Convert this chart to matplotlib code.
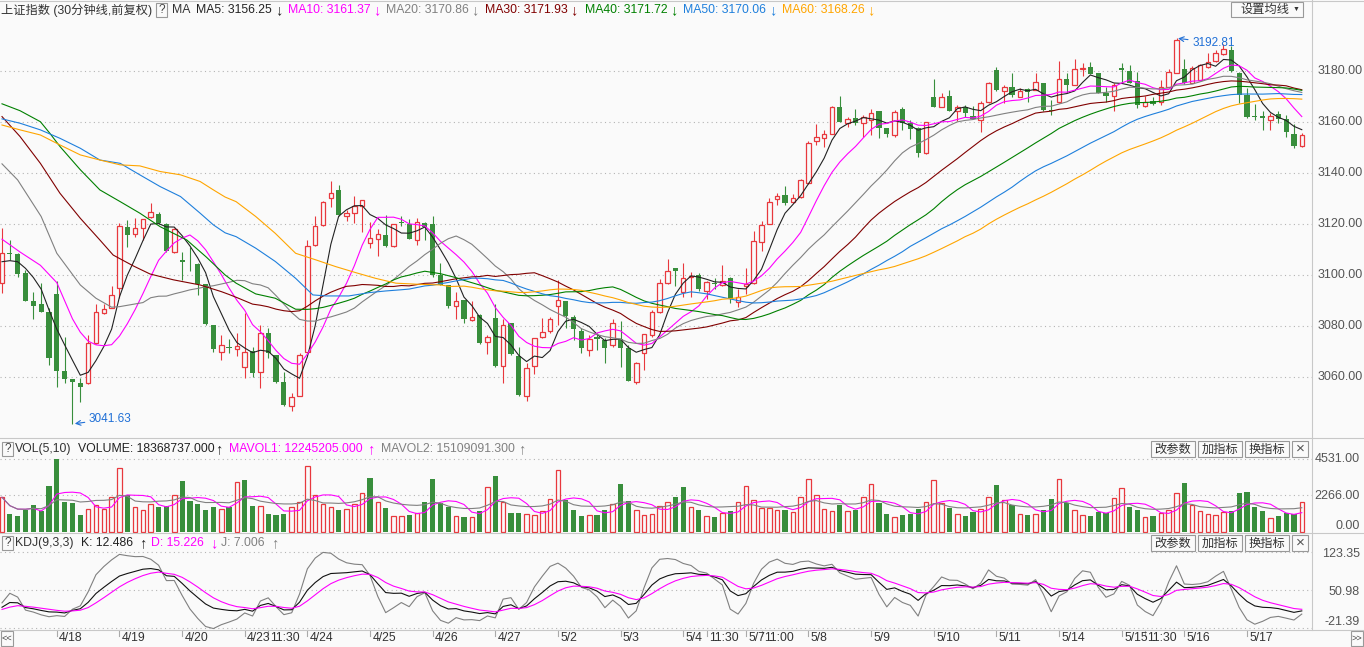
import numpy as np
import pandas as pd
import matplotlib
matplotlib.use('Agg')
import matplotlib.pyplot as plt
from matplotlib.patches import Rectangle
from matplotlib.transforms import blended_transform_factory

plt.rcParams['font.family'] = ['Liberation Sans', 'Noto Sans CJK SC', 'DejaVu Sans']

# 上证指数 30分钟K线, 4/17 尾盘 7 根 + 4/18 .. 5/17 (每日 8 根)
opens = [3096.8, 3108.7, 3108.2, 3100.7, 3089.9, 3088.5, 3085.4,
         3092.6, 3062.5, 3059.2, 3057.6, 3057.6, 3073.3, 3085.3, 3087.0,
         3094.8, 3118.9, 3115.9, 3118.3, 3122.6, 3123.9, 3120.0, 3108.9,
         3105.9, 3104.7, 3104.3, 3096.5, 3080.5, 3070.0, 3072.0, 3070.9,
         3063.9, 3070.3, 3061.9, 3077.2, 3068.7, 3058.0, 3048.8, 3052.8,
         3070.0, 3111.8, 3119.6, 3130.0, 3133.3, 3122.9, 3124.4, 3127.0,
         3112.7, 3114.0, 3115.7, 3111.5, 3120.9, 3120.0, 3113.7, 3120.5,
         3120.0, 3100.0, 3095.9, 3087.9, 3090.2, 3082.2, 3084.4, 3073.9,
         3083.1, 3064.2, 3081.1, 3068.3, 3052.7, 3064.2, 3075.6, 3077.9,
         3087.9, 3089.9, 3083.5, 3078.2, 3070.7, 3075.9, 3074.6, 3072.6,
         3074.8, 3071.3, 3058.0, 3069.6, 3076.5, 3085.4, 3096.8, 3102.6,
         3093.5, 3099.1, 3100.0, 3093.9, 3097.0, 3096.1, 3098.7, 3089.6,
         3095.5, 3096.8, 3112.8, 3120.0, 3129.6, 3131.3, 3128.5, 3130.4,
         3135.9, 3152.5, 3153.5, 3155.1, 3165.6, 3159.4, 3161.3, 3159.6,
         3160.7, 3164.2, 3157.4, 3154.6, 3164.9, 3159.6, 3157.7, 3147.6,
         3169.6, 3165.9, 3170.1, 3164.3, 3165.9, 3162.3, 3160.7, 3167.6,
         3180.3, 3172.2, 3173.5, 3169.8, 3172.7, 3172.4, 3175.0, 3164.6,
         3167.6, 3176.6, 3174.4, 3180.7, 3181.6, 3179.0, 3171.1, 3170.2,
         3180.9, 3180.0, 3176.0, 3166.2, 3168.1, 3167.9, 3173.5, 3179.2,
         3180.7, 3175.3, 3176.3, 3181.3, 3183.9, 3186.4, 3188.1, 3179.2,
         3170.5, 3162.3, 3162.3, 3160.7, 3162.9, 3161.1, 3155.1, 3150.3]
highs = [3118.3, 3113.7, 3108.5, 3102.0, 3093.5, 3096.8, 3087.0,
         3097.7, 3075.9, 3059.2, 3059.6, 3076.5, 3088.7, 3088.7, 3095.7,
         3120.2, 3121.6, 3122.2, 3122.0, 3128.3, 3124.8, 3120.5, 3118.3,
         3108.9, 3111.1, 3104.6, 3096.5, 3080.5, 3076.5, 3074.8, 3077.2,
         3085.0, 3071.7, 3080.5, 3079.2, 3068.7, 3062.2, 3053.7, 3069.6,
         3113.7, 3123.1, 3129.0, 3136.7, 3135.3, 3125.5, 3131.0, 3129.3,
         3120.9, 3117.9, 3123.5, 3120.0, 3122.9, 3121.8, 3122.5, 3120.9,
         3122.9, 3104.6, 3095.9, 3093.5, 3090.3, 3090.0, 3084.6, 3076.5,
         3088.7, 3082.7, 3081.2, 3071.7, 3065.5, 3075.3, 3083.1, 3083.7,
         3098.1, 3090.0, 3084.4, 3079.2, 3076.5, 3077.2, 3075.2, 3082.7,
         3081.8, 3072.6, 3066.1, 3077.0, 3086.3, 3098.4, 3106.3, 3102.7,
         3104.6, 3101.3, 3100.7, 3097.5, 3098.7, 3104.0, 3099.4, 3094.4,
         3102.6, 3117.4, 3121.2, 3130.0, 3132.0, 3135.0, 3131.7, 3137.5,
         3152.5, 3159.1, 3156.8, 3166.2, 3170.1, 3162.0, 3164.9, 3162.6,
         3164.9, 3164.3, 3157.5, 3164.6, 3165.6, 3160.7, 3158.1, 3160.0,
         3176.6, 3171.1, 3172.4, 3166.6, 3166.6, 3166.2, 3168.1, 3175.7,
         3181.6, 3174.4, 3179.2, 3173.1, 3173.1, 3179.2, 3175.3, 3168.5,
         3183.9, 3179.0, 3184.4, 3182.8, 3183.5, 3179.2, 3173.5, 3175.0,
         3182.9, 3182.2, 3179.6, 3170.1, 3169.8, 3176.3, 3180.5, 3192.81,
         3184.4, 3181.8, 3182.6, 3186.8, 3188.1, 3190.3, 3189.8, 3179.6,
         3173.1, 3166.8, 3164.0, 3163.3, 3164.0, 3162.6, 3159.0, 3155.5]
lows = [3092.8, 3105.9, 3099.1, 3090.0, 3082.7, 3085.5, 3064.8,
        3056.3, 3057.6, 3041.63, 3050.1, 3057.4, 3073.0, 3084.8, 3087.0,
        3090.9, 3111.1, 3115.0, 3113.7, 3122.4, 3120.0, 3109.0, 3108.8,
        3098.1, 3101.7, 3092.2, 3080.5, 3070.0, 3066.8, 3069.4, 3068.1,
        3059.6, 3060.2, 3055.7, 3067.4, 3057.9, 3048.9, 3046.9, 3052.6,
        3069.8, 3111.5, 3119.0, 3126.8, 3123.0, 3121.3, 3120.5, 3117.0,
        3110.5, 3107.6, 3111.1, 3111.0, 3119.2, 3114.0, 3111.8, 3113.7,
        3099.4, 3096.0, 3087.0, 3082.9, 3081.4, 3081.8, 3073.0, 3069.0,
        3063.8, 3057.6, 3068.8, 3052.8, 3050.8, 3061.1, 3075.4, 3077.2,
        3080.5, 3079.2, 3074.6, 3069.4, 3068.1, 3070.7, 3065.7, 3072.0,
        3063.9, 3058.5, 3057.2, 3062.8, 3075.9, 3085.0, 3096.5, 3095.5,
        3091.5, 3091.5, 3093.9, 3090.5, 3094.4, 3095.5, 3089.2, 3087.6,
        3092.6, 3096.5, 3109.2, 3119.9, 3127.4, 3127.4, 3128.1, 3130.3,
        3135.8, 3150.9, 3149.9, 3155.0, 3160.0, 3157.8, 3158.7, 3154.2,
        3154.8, 3153.5, 3153.9, 3154.2, 3156.8, 3153.1, 3146.3, 3147.5,
        3165.7, 3165.6, 3164.0, 3160.4, 3162.0, 3161.0, 3156.1, 3167.2,
        3172.0, 3167.2, 3169.6, 3169.6, 3167.9, 3172.3, 3164.0, 3162.6,
        3167.5, 3171.4, 3174.3, 3177.7, 3178.6, 3171.1, 3167.9, 3164.3,
        3175.0, 3175.0, 3165.3, 3165.9, 3166.6, 3166.6, 3173.1, 3179.0,
        3174.8, 3175.2, 3176.2, 3181.2, 3183.5, 3186.0, 3179.6, 3167.5,
        3161.3, 3160.7, 3156.8, 3156.8, 3159.4, 3153.9, 3149.6, 3150.0]
closes = [3108.5, 3108.3, 3100.4, 3090.0, 3088.0, 3085.7, 3067.7,
          3062.6, 3059.2, 3058.0, 3056.3, 3073.3, 3085.7, 3086.6, 3092.1,
          3119.3, 3115.7, 3118.3, 3121.8, 3124.6, 3120.2, 3109.2, 3118.0,
          3105.0, 3104.5, 3096.5, 3080.7, 3070.9, 3072.5, 3071.5, 3072.2,
          3070.0, 3061.8, 3077.2, 3069.4, 3058.3, 3049.1, 3052.4, 3068.7,
          3111.5, 3119.3, 3128.7, 3132.0, 3123.5, 3124.2, 3127.0, 3129.2,
          3114.4, 3115.9, 3111.5, 3119.9, 3120.4, 3114.1, 3120.6, 3118.9,
          3100.0, 3096.1, 3088.0, 3089.9, 3082.7, 3083.5, 3073.5, 3075.6,
          3064.5, 3080.5, 3069.0, 3053.1, 3063.5, 3075.2, 3077.6, 3082.7,
          3090.2, 3084.0, 3078.8, 3071.3, 3075.0, 3074.8, 3071.6, 3081.4,
          3071.6, 3058.7, 3065.5, 3076.8, 3085.4, 3096.8, 3101.7, 3101.5,
          3098.7, 3099.6, 3094.4, 3097.4, 3096.5, 3097.8, 3090.5, 3091.5,
          3096.4, 3113.3, 3119.6, 3128.7, 3130.9, 3128.3, 3130.3, 3137.2,
          3151.8, 3154.2, 3155.1, 3165.6, 3160.0, 3161.0, 3159.4, 3162.0,
          3163.3, 3157.4, 3155.1, 3163.7, 3159.4, 3157.2, 3147.9, 3159.8,
          3165.9, 3169.8, 3164.3, 3165.6, 3163.3, 3161.2, 3167.2, 3175.0,
          3172.4, 3173.5, 3170.5, 3172.2, 3171.8, 3175.4, 3164.6, 3164.1,
          3176.6, 3174.4, 3180.5, 3181.2, 3178.7, 3171.4, 3170.1, 3174.4,
          3180.3, 3175.3, 3166.6, 3167.9, 3167.1, 3173.5, 3179.6, 3192.1,
          3175.0, 3181.2, 3182.0, 3183.5, 3186.8, 3188.3, 3180.0, 3170.5,
          3162.0, 3161.9, 3161.3, 3162.4, 3161.0, 3155.9, 3150.3, 3154.8]
# 成交量 (万)
volumes = [2146, 1114, 990, 1382, 1692, 1320, 2826,
           4531, 1857, 1795, 1073, 1423, 1650, 1444, 2146,
           3961, 2269, 1547, 1382, 1733, 1527, 1589, 2269,
           3177, 1898, 1733, 1382, 1547, 1444, 1527, 3095,
           3239, 1609, 1609, 1114, 1073, 1114, 1547, 1857,
           4064, 2269, 1733, 1547, 1382, 1444, 1754, 2414,
           3342, 1857, 1485, 970, 970, 1073, 1176, 1857,
           3301, 1795, 1527, 970, 928, 928, 1320, 2764,
           3486, 1857, 1176, 1176, 1114, 1032, 1279, 2042,
           3837, 2001, 1382, 1011, 1073, 1073, 1382, 1754,
           2971, 1939, 1362, 1052, 1114, 1589, 1857, 2166,
           2785, 1547, 1382, 990, 928, 1155, 1300, 1836,
           2826, 1980, 1485, 1485, 1362, 1362, 1217, 2146,
           3259, 2311, 1423, 1279, 1692, 1279, 1382, 2146,
           2950, 1795, 1114, 908, 1060, 1114, 1423, 1836,
           3198, 1795, 1485, 1093, 990, 1238, 1403, 2146,
           2909, 1960, 1650, 1093, 1052, 1093, 1362, 2042,
           3259, 1774, 1362, 1032, 990, 1238, 1197, 2084,
           2702, 1547, 1362, 908, 990, 1155, 1341, 2393,
           3033, 1650, 1279, 1093, 1052, 1238, 1300, 2414,
           2476, 1547, 1300, 866, 990, 1176, 1114, 1836]

day_labels = ['4/18', '4/19', '4/20', '4/23', '4/24', '4/25', '4/26', '4/27', '5/2', '5/3',
              '5/4', '5/7', '5/8', '5/9', '5/10', '5/11', '5/14', '5/15', '5/16', '5/17']
day_first_bar = [7, 15, 23, 31, 39, 47, 55, 63, 71, 79, 87, 95, 103, 111, 119, 127, 135, 143, 151, 159]
time_labels = ['11:30', '11:30', '11:00', '11:30']
time_bars = [34, 90, 97, 146]

# 均线开头部分 (窗口不足, 从图上读取)
ma5_head_x, ma5_head_y = [0, 1, 2, 3], [3105.2, 3105.6, 3105.2, 3102.6]
ma10_head_x, ma10_head_y = [0, 2.3, 4.9, 7], [3114.0, 3109.0, 3103.8, 3097.0]
ma20_head_x = [0, 2, 5, 7, 10, 12, 14, 15, 18]
ma20_head_y = [3143.5, 3137.2, 3122.9, 3108.5, 3096.1, 3090.9, 3087.4, 3087.6, 3089.2]
ma30_head_x = [0, 2.3, 4.9, 7.4, 10, 12.5, 14.2, 16.8, 18.9, 21.9, 25.3, 28]
ma30_head_y = [3162.0, 3154.2, 3143.7, 3132.0, 3122.2, 3113.7, 3107.8, 3103.5, 3100.4,
               3098.1, 3096.1, 3093.5]
ma40_head_x = [0, 2.3, 4.9, 6.1, 7.4, 10, 12.5, 15.1, 17.6, 20.2, 23.6, 26.1, 28.5, 29.9,
               32.4, 34.9, 37.5]
ma40_head_y = [3167.0, 3164.3, 3160.0, 3155.5, 3150.3, 3141.2, 3133.3, 3128.7, 3124.2,
               3118.9, 3113.7, 3107.0, 3100.0, 3096.8, 3092.6, 3090.9, 3086.6]
ma50_head_x = [0, 2.3, 4.9, 7.4, 10, 12.5, 15.1, 17.6, 20.2, 22.8, 25.3, 27, 28.5, 29.9,
               32.4, 34.9, 37.5, 39.7, 41.4, 44.3, 46.9]
ma50_head_y = [3161.1, 3159.4, 3156.8, 3153.5, 3149.6, 3145.0, 3143.7, 3139.2, 3134.6,
               3130.7, 3124.2, 3119.6, 3116.5, 3115.0, 3110.5, 3105.3, 3098.7, 3092.2,
               3091.8, 3091.8, 3093.1]
ma60_head_x = [0, 2.3, 4.9, 7.4, 10, 12.5, 15.1, 17.6, 20.2, 22.8, 25.3, 27, 28.5, 29.9,
               32.4, 34.9, 37.5, 40.1, 42.6, 45.2, 47.7, 50.3, 52.9, 56, 57.2]
ma60_head_y = [3158.7, 3156.8, 3154.8, 3150.9, 3147.0, 3145.0, 3143.1, 3142.7, 3140.5,
               3139.2, 3136.6, 3133.3, 3130.5, 3128.7, 3122.9, 3116.3, 3108.5, 3105.9,
               3103.3, 3100.9, 3098.7, 3096.8, 3096.4, 3096.1, 3095.5]

# KDJ 起始 (窗口前的高低点与初值, 估计)
prior_high, prior_low = 3130.0, 3090.0
k_start, d_start = 5.0, 12.5

N = len(closes)
assert all(len(a) == N for a in [opens, highs, lows, volumes])

W, H = 1364, 647
BG = '#fafafa'
RED = '#e8383d'
GREEN = '#388e3c'
BLUE = '#1f6fd6'
MA_COLORS = ['#222222', '#ff00ff', '#808080', '#800000', '#008000', '#1e7fdc', '#ffa500']
GRID = dict(color='#b4b4b4', lw=0.8, ls=(0, (1, 3)))
LW = 0.8

fig = plt.figure(figsize=(W / 100, H / 100), dpi=100, facecolor=BG)


def panel(y0, y1):
    a = fig.add_axes([0, 1 - y1 / H, 1312 / W, (y1 - y0) / H])
    a.set_facecolor(BG)
    for s in a.spines.values():
        s.set_visible(False)
    a.set_xticks([])
    a.set_yticks([])
    a.set_xlim(-2 / 7.83, 1310 / 7.83)
    return a


ax = panel(20, 438)
ax.set_ylim(3036.2, 3199.8)
axv = panel(438, 533)
axv.set_ylim(-62, 5819)
axk = panel(533, 630)
axk.set_ylim(-24.6, 160.1)

o = np.array(opens); h = np.array(highs); l = np.array(lows); c = np.array(closes)
v = np.array(volumes)
idx = np.arange(N)
up = c >= o

# ---- K线 ----
for p in range(3060, 3181, 20):
    ax.axhline(p, zorder=0, **GRID)
ax.vlines(idx, l, h, colors=np.where(up, RED, GREEN), lw=LW, zorder=2)
bottom = np.minimum(o, c)
height = np.maximum(np.abs(c - o), 0.3)
ax.bar(idx[up], height[up], bottom=bottom[up], width=0.58, facecolor=BG,
       edgecolor=RED, lw=0.9, zorder=3)
ax.bar(idx[~up], height[~up], bottom=bottom[~up], width=0.66, color=GREEN, lw=0, zorder=3)

cs = pd.Series(c)
heads = [(ma5_head_x, ma5_head_y), (ma10_head_x, ma10_head_y), (ma20_head_x, ma20_head_y),
         (ma30_head_x, ma30_head_y), (ma40_head_x, ma40_head_y), (ma50_head_x, ma50_head_y),
         (ma60_head_x, ma60_head_y)]
for n, (hx, hy), col in zip([5, 10, 20, 30, 40, 50, 60], heads, MA_COLORS):
    m = cs.rolling(n).mean().to_numpy()
    xs = list(hx) + list(range(n - 1, N))
    ys = list(hy) + list(m[n - 1:])
    ax.plot(xs, ys, color=col, lw=LW, zorder=4)

ax.annotate('3041.63', xy=(9.3, 3041.8), xytext=(11.1, 3043.7), color=BLUE, fontsize=8.5,
            va='center', ha='left', zorder=6,
            arrowprops=dict(arrowstyle='->', color=BLUE, lw=0.8, shrinkA=1, shrinkB=0))
ax.annotate('3192.81', xy=(150.2, 3192.6), xytext=(152.0, 3190.9), color=BLUE, fontsize=8.5,
            va='center', ha='left', zorder=6,
            arrowprops=dict(arrowstyle='->', color=BLUE, lw=0.8, shrinkA=1, shrinkB=0))

# ---- 成交量 ----
vol_up = np.concatenate([[True], c[1:] >= c[:-1]])
for gv in [4531, 2266]:
    axv.axhline(gv, zorder=0, **GRID)
axv.bar(idx[vol_up], v[vol_up], width=0.58, facecolor=BG, edgecolor=RED, lw=0.9, zorder=2)
axv.bar(idx[~vol_up], v[~vol_up], width=0.66, color=GREEN, lw=0, zorder=2)
vs = pd.Series(v.astype(float))
axv.plot(idx, vs.rolling(5, min_periods=1).mean(), color='#ff00ff', lw=LW, zorder=3)
axv.plot(idx, vs.rolling(10, min_periods=1).mean(), color='#808080', lw=LW, zorder=3)

# ---- KDJ(9,3,3) ----
K = np.zeros(N); D = np.zeros(N)
kp, dp = k_start, d_start
for i in range(N):
    hh = h[max(0, i - 8):i + 1].max()
    ll = l[max(0, i - 8):i + 1].min()
    if i < 8:
        hh = max(hh, prior_high)
        ll = min(ll, prior_low)
    rsv = (c[i] - ll) / (hh - ll) * 100
    kp = (2 * kp + rsv) / 3
    dp = (2 * dp + kp) / 3
    K[i], D[i] = kp, dp
J = 3 * K - 2 * D
for gv in [123.35, 50.98, -21.39]:
    axk.axhline(gv, zorder=0, **GRID)
axk.plot(idx, J, color='#808080', lw=LW)
axk.plot(idx, K, color='#111111', lw=LW)
axk.plot(idx, D, color='#ff00ff', lw=LW)

# ---- 右侧刻度 ----
tr = blended_transform_factory(ax.transAxes, ax.transData)
for p in range(3060, 3181, 20):
    ax.text(1.004, p, f'{p:.2f}', transform=tr, va='center', ha='left', fontsize=9,
            color='#555555', clip_on=False)

ov = fig.add_axes([0, 0, 1, 1])
ov.set_xlim(0, W)
ov.set_ylim(H, 0)
ov.axis('off')
ov.patch.set_alpha(0)

for txt, yy in [('4531.00', 459), ('2266.00', 496), ('0.00', 526),
                ('123.35', 554), ('50.98', 592), ('-21.39', 622)]:
    ov.text(1360, yy, txt, ha='right', va='center', fontsize=9, color='#555555')

# 分隔线
LC = '#c8c8c8'
for yy in [438, 533, 630]:
    ov.plot([0, W], [yy, yy], color=LC, lw=0.8)
ov.plot([1312, 1312], [0, 630], color=LC, lw=0.8)
ov.plot([0, W], [0.5, 0.5], color=LC, lw=0.8)


def qbox(x, y):
    ov.add_patch(Rectangle((x, y - 7), 11, 14, fill=False, ec='#999999', lw=0.8))
    ov.text(x + 5.5, y, '?', ha='center', va='center', fontsize=8.5, color='#444444')


def put(items, y):
    for x, s, col in items:
        size = 10.5 if s in ('↑', '↓') else 8.8
        ov.text(x, y, s, ha='left', va='center', fontsize=size, color=col)


# 主图标题
put([(1, '上证指数 (30分钟线,前复权)', '#333333')], 10)
qbox(156, 10)
put([(172, 'MA', '#333333'),
     (196, 'MA5: 3156.25', '#222222'), (275, '↓', '#222222'),
     (288, 'MA10: 3161.37', '#ff00ff'), (373, '↓', '#ff00ff'),
     (386, 'MA20: 3170.86', '#808080'), (471, '↓', '#808080'),
     (485, 'MA30: 3171.93', '#800000'), (570, '↓', '#800000'),
     (585, 'MA40: 3171.72', '#008000'), (670, '↓', '#008000'),
     (683, 'MA50: 3170.06', '#1e7fdc'), (769, '↓', '#1e7fdc'),
     (782, 'MA60: 3168.26', '#ffa500'), (867, '↓', '#ffa500')], 10)
ov.add_patch(Rectangle((1231, 2), 72, 15, fill=False, ec='#999999', lw=0.8))
ov.text(1240, 9.5, '设置均线', ha='left', va='center', fontsize=8.8, color='#333333')
ov.text(1296, 9.5, '▼', ha='center', va='center', fontsize=5, color='#333333')

# 成交量标题
qbox(2, 449)
put([(15, 'VOL(5,10)', '#333333'),
     (78, 'VOLUME: 18368737.000', '#222222'), (215, '↑', '#222222'),
     (229, 'MAVOL1: 12245205.000', '#ff00ff'), (367, '↑', '#ff00ff'),
     (381, 'MAVOL2: 15109091.300', '#808080'), (518, '↑', '#808080')], 449)
# KDJ 标题
qbox(2, 543)
put([(15, 'KDJ(9,3,3)', '#333333'),
     (81, 'K: 12.486', '#222222'), (139, '↑', '#222222'),
     (151, 'D: 15.226', '#ff00ff'), (210, '↓', '#ff00ff'),
     (221, 'J: 7.006', '#808080'), (271, '↑', '#808080')], 543)

# 按钮
for by in [441, 535]:
    for bx, bw, s in [(1151, 44, '改参数'), (1198, 44, '加指标'), (1245, 44, '换指标')]:
        ov.add_patch(Rectangle((bx, by), bw, 16, fill=False, ec='#999999', lw=0.8))
        ov.text(bx + bw / 2, by + 8.5, s, ha='center', va='center', fontsize=8.8, color='#333333')
    ov.add_patch(Rectangle((1292, by), 16, 16, fill=False, ec='#999999', lw=0.8))
    ov.text(1300, by + 8, '×', ha='center', va='center', fontsize=11, color='#555555')

# 日期轴
trk = blended_transform_factory(axk.transData, axk.transAxes)
for i, s in list(zip(day_first_bar, day_labels)) + list(zip(time_bars, time_labels)):
    axk.plot([i, i], [0, -0.06], transform=trk, color='#aaaaaa', lw=0.8, clip_on=False)
    axk.text(i + 0.3, -0.085, s, transform=trk, ha='left', va='center', fontsize=8.8,
             color='#333333', clip_on=False)
ov.add_patch(Rectangle((0.5, 631), 12, 15, fill=False, ec='#999999', lw=0.8))
ov.text(6.5, 638.5, '<<', ha='center', va='center', fontsize=6.5, color='#444444')
ov.add_patch(Rectangle((1351, 631), 12, 15, fill=False, ec='#999999', lw=0.8))
ov.text(1357, 638.5, '>>', ha='center', va='center', fontsize=6.5, color='#444444')

fig.savefig('out.png', dpi=100, facecolor=BG)
